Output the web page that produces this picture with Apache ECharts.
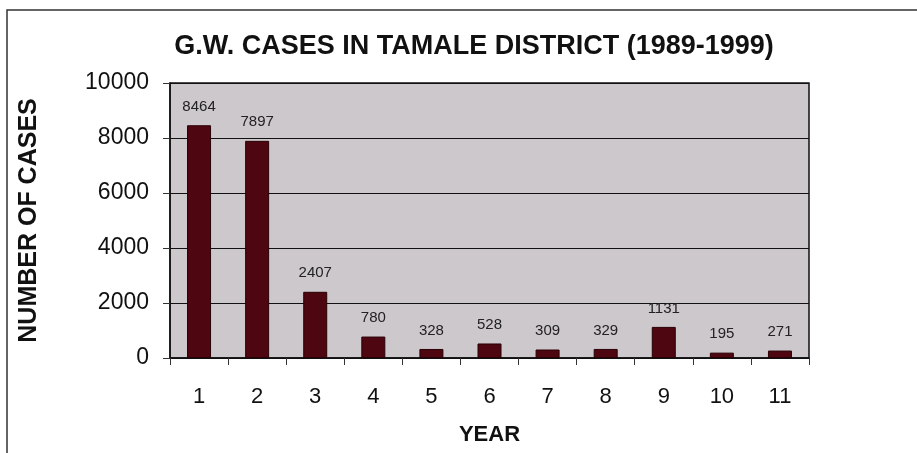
<!DOCTYPE html>
<html>
<head>
<meta charset="utf-8">
<script src="https://cdn.jsdelivr.net/npm/echarts@6/dist/echarts.min.js"></script>
<style>
  html, body { margin: 0; padding: 0; background: #fff; }
</style>
</head>
<body>
<!-- chart container -->
<div id="main" style="width: 917px;height: 453px;"></div>
<script>
// data
var years = ['1', '2', '3', '4', '5', '6', '7', '8', '9', '10', '11']
var cases = [8464, 7897, 2407, 780, 328, 528, 309, 329, 1131, 195, 271]
var yTicks = [0, 2000, 4000, 6000, 8000, 10000]

var myChart = echarts.init(document.getElementById('main'))
var font = 'Liberation Sans, Arial, sans-serif'

var option = {
  animation: false,
  backgroundColor: '#fff',
  title: {
    text: 'G.W. CASES IN TAMALE DISTRICT (1989-1999)',
    left: 469,
    top: 28,
    textAlign: 'center',
    textStyle: { fontFamily: font, fontSize: 27, fontWeight: 'bold', color: '#111' }
  },
  // frame round the whole chart
  graphic: [
    {
      type: 'rect',
      shape: { x: 7, y: 10, width: 940, height: 480 },
      style: { fill: 'none', stroke: '#333', lineWidth: 1.5 },
      silent: true,
      z: -1
    }
  ],
  grid: {
    left: 170,
    top: 83,
    width: 639,
    height: 275,
    outerBoundsMode: 'none',
    containLabel: false,
    show: true,
    backgroundColor: '#cdc8cc',
    borderColor: '#111',
    borderWidth: 1.5
  },
  xAxis: {
    type: 'category',
    data: years,
    name: 'YEAR',
    nameLocation: 'middle',
    nameGap: 66,
    nameTextStyle: { fontFamily: font, fontSize: 22, fontWeight: 'bold', color: '#111' },
    axisLine: { lineStyle: { color: '#111', width: 1.5 } },
    axisTick: { show: true, alignWithLabel: false, length: 7, lineStyle: { color: '#333' } },
    axisLabel: { fontFamily: font, fontSize: 22, color: '#111', margin: 28 }
  },
  yAxis: {
    type: 'value',
    min: yTicks[0],
    max: yTicks[yTicks.length - 1],
    interval: 2000,
    name: 'NUMBER OF CASES',
    nameLocation: 'middle',
    nameGap: 128,
    nameTextStyle: { fontFamily: font, fontSize: 25, fontWeight: 'bold', color: '#111' },
    axisLine: { show: true, lineStyle: { color: '#111', width: 1.5 } },
    axisTick: { show: true, length: 7, lineStyle: { color: '#333' } },
    axisLabel: {
      fontFamily: font,
      fontSize: 23,
      color: '#111',
      margin: 21,
      formatter: function (v) { return String(v) }
    },
    splitLine: { lineStyle: { color: '#111', width: 1.2 } }
  },
  series: [
    {
      name: 'cases',
      type: 'bar',
      data: cases,
      barWidth: 24,
      itemStyle: { color: '#4e0610', borderColor: '#2a0006', borderWidth: 1 },
      label: {
        show: true,
        position: 'top',
        distance: 11,
        fontFamily: font,
        fontSize: 15,
        color: '#222'
      }
    }
  ]
}
myChart.setOption(option)
</script>
</body>
</html>
